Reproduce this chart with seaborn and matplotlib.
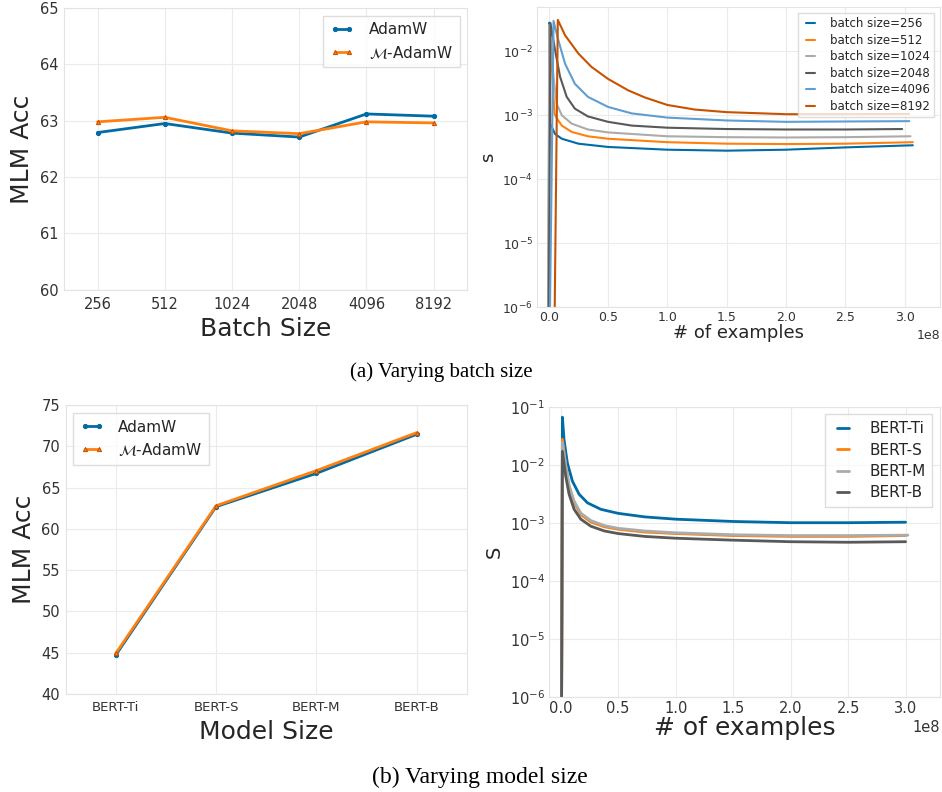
import numpy as np
import pandas as pd
import matplotlib
matplotlib.use('Agg')
import matplotlib.pyplot as plt
import seaborn as sns

# colours (tableau colorblind10)
BLUE = '#006BA4'
ORANGE = '#FF800E'
GRAY = '#ABABAB'
DGRAY = '#595959'
LBLUE = '#5F9ED1'
DORANGE = '#C85200'

# ---- (a) batch size: accuracy ----
batch_sizes = ['256', '512', '1024', '2048', '4096', '8192']
acc_adamw_bs = [62.79, 62.95, 62.78, 62.71, 63.12, 63.08]
acc_madamw_bs = [62.98, 63.06, 62.82, 62.77, 62.98, 62.96]

# ---- (a) batch size: s vs # of examples (x in units of 1e8) ----
bs_labels = ['batch size=256', 'batch size=512', 'batch size=1024',
             'batch size=2048', 'batch size=4096', 'batch size=8192']
bs_x = [
    [-0.003, 0.005, 0.011, 0.053, 0.11, 0.25, 0.5, 1.0, 1.5, 2.0, 2.5, 3.07],
    [-0.003, 0.008, 0.048, 0.067, 0.11, 0.193, 0.33, 0.5, 1.0, 1.5, 2.0, 2.5, 3.07],
    [-0.003, 0.003, 0.04, 0.067, 0.11, 0.193, 0.33, 0.5, 1.0, 1.5, 2.0, 2.5, 3.05],
    [0.0, 0.014, 0.053, 0.095, 0.151, 0.22, 0.33, 0.5, 0.70, 1.0, 1.5, 2.0, 2.5, 2.98],
    [0.01, 0.04, 0.081, 0.137, 0.22, 0.33, 0.5, 0.70, 1.0, 1.5, 2.0, 2.5, 3.04],
    [0.05, 0.076, 0.137, 0.25, 0.36, 0.5, 0.67, 0.81, 1.0, 1.23, 1.5, 2.0, 2.5, 3.04],
]
bs_s = [
    [1e-6, 2.8e-2, 7.4e-4, 5.1e-4, 4.3e-4, 3.6e-4, 3.2e-4, 2.9e-4, 2.8e-4, 2.9e-4, 3.15e-4, 3.4e-4],
    [1e-6, 2.3e-2, 1.05e-3, 9.0e-4, 6.9e-4, 5.5e-4, 4.7e-4, 4.3e-4, 3.8e-4, 3.6e-4, 3.55e-4, 3.6e-4, 3.8e-4],
    [1e-6, 2.6e-2, 4.0e-3, 1.5e-3, 1.0e-3, 7.4e-4, 6.0e-4, 5.4e-4, 4.7e-4, 4.55e-4, 4.5e-4, 4.55e-4, 4.7e-4],
    [1e-6, 2.77e-2, 1.04e-2, 4.0e-3, 1.94e-3, 1.27e-3, 9.6e-4, 7.9e-4, 6.9e-4, 6.4e-4, 6.1e-4, 6.0e-4, 6.0e-4, 6.1e-4],
    [1e-6, 2.98e-2, 1.48e-2, 6.4e-3, 3.1e-3, 1.94e-3, 1.35e-3, 1.07e-3, 9.2e-4, 8.3e-4, 7.9e-4, 8.0e-4, 8.1e-4],
    [1e-6, 3.1e-2, 1.78e-2, 9.2e-3, 5.7e-3, 3.7e-3, 2.45e-3, 1.9e-3, 1.45e-3, 1.23e-3, 1.12e-3, 1.04e-3, 1.04e-3, 1.05e-3],
]
bs_colors = [BLUE, ORANGE, GRAY, DGRAY, LBLUE, DORANGE]

# ---- (b) model size: accuracy ----
models = ['BERT-Ti', 'BERT-S', 'BERT-M', 'BERT-B']
acc_adamw_ms = [44.72, 62.69, 66.72, 71.45]
acc_madamw_ms = [44.92, 62.80, 67.05, 71.65]

# ---- (b) model size: s vs # of examples (x in units of 1e8) ----
ms_x = [
    [0.008, 0.015, 0.029, 0.058, 0.102, 0.16, 0.233, 0.35, 0.5, 0.73, 1.0, 1.5, 2.0, 2.5, 3.0],
    [0.008, 0.015, 0.044, 0.073, 0.117, 0.175, 0.262, 0.38, 0.5, 0.73, 1.0, 1.5, 2.0, 2.5, 3.0],
    [0.008, 0.015, 0.044, 0.073, 0.117, 0.175, 0.262, 0.38, 0.5, 0.73, 1.0, 1.5, 2.0, 2.5, 3.02],
    [0.008, 0.015, 0.044, 0.073, 0.117, 0.175, 0.262, 0.38, 0.5, 0.73, 1.0, 1.5, 2.0, 2.5, 3.0],
]
ms_s = [
    [1e-6, 6.6e-2, 2.7e-2, 1.07e-2, 5.2e-3, 3.1e-3, 2.2e-3, 1.7e-3, 1.45e-3, 1.26e-3, 1.15e-3, 1.05e-3, 1.0e-3, 1.0e-3, 1.02e-3],
    [1e-6, 2.75e-2, 9.4e-3, 4.2e-3, 2.2e-3, 1.38e-3, 1.03e-3, 8.5e-4, 7.7e-4, 6.9e-4, 6.5e-4, 6.0e-4, 5.8e-4, 5.8e-4, 6.0e-4],
    [1e-6, 2.45e-2, 9.8e-3, 4.4e-3, 2.35e-3, 1.46e-3, 1.09e-3, 8.9e-4, 8.0e-4, 7.2e-4, 6.7e-4, 6.2e-4, 6.0e-4, 6.0e-4, 6.1e-4],
    [1e-6, 1.7e-2, 6.3e-3, 3.1e-3, 1.7e-3, 1.15e-3, 8.7e-4, 7.2e-4, 6.5e-4, 5.8e-4, 5.4e-4, 5.0e-4, 4.7e-4, 4.6e-4, 4.7e-4],
]
ms_colors = [BLUE, ORANGE, GRAY, DGRAY]

sns.set_style('whitegrid', rc={
    'axes.edgecolor': '#e3e3e3',
    'grid.color': '#ebebeb',
    'axes.linewidth': 1.0,
    'text.color': '#262626',
    'xtick.color': '#333333',
    'ytick.color': '#333333',
    'axes.labelcolor': '#262626',
})
plt.rcParams['font.family'] = ['DejaVu Sans']

fig = plt.figure(figsize=(9.42, 7.92), dpi=100)

ax1 = fig.add_axes([0.068, 0.634, 0.428, 0.356])
ax2 = fig.add_axes([0.570, 0.612, 0.428, 0.379])
ax3 = fig.add_axes([0.0697, 0.1237, 0.4257, 0.3649])
ax4 = fig.add_axes([0.583, 0.1203, 0.415, 0.3662])


def style_legend(ax, loc, fs, hl, ls, bp=0.45):
    leg = ax.legend(loc=loc, fontsize=fs, numpoints=2, fancybox=False,
                    frameon=True, handlelength=hl, handletextpad=1.0,
                    labelspacing=ls, borderpad=bp)
    leg.get_frame().set_edgecolor('#d5d5d5')


def acc_panel(ax, cats, a, m, ylim, yticks, xlabel, loc, tick_fs):
    sns.lineplot(x=cats, y=a, ax=ax, color=BLUE, linewidth=2, marker='o',
                 markersize=3, markeredgecolor=BLUE, label='AdamW', sort=False)
    sns.lineplot(x=cats, y=m, ax=ax, color=ORANGE, linewidth=2, marker='^',
                 markersize=3, markeredgecolor=DORANGE, label=r'$\mathcal{M}$-AdamW', sort=False)
    ax.set_xlim(-0.5, len(cats) - 0.5)
    ax.set_ylim(*ylim)
    ax.set_yticks(yticks)
    ax.set_xlabel(xlabel, fontsize=18)
    ax.set_ylabel('MLM Acc', fontsize=18)
    ax.tick_params(axis='x', labelsize=tick_fs, length=0, pad=5)
    ax.tick_params(axis='y', labelsize=10.5, length=0, pad=4)
    style_legend(ax, loc, 11, 1.5, 0.4)


def s_panel(ax, xs, ss, labels, colors, lw, tick_fs, ylim):
    for x, s, lab, c in zip(xs, ss, labels, colors):
        sns.lineplot(x=np.array(x) * 1e8, y=s, ax=ax, color=c, linewidth=lw,
                     label=lab, sort=False, estimator=None)
    ax.set_yscale('log')
    ax.set_ylim(*ylim)
    ax.set_xlim(-0.1e8, 3.3e8)
    ax.set_xticks(np.arange(0, 3.01e8, 0.5e8))
    ax.tick_params(labelsize=tick_fs, length=0, pad=3)
    ax.xaxis.get_offset_text().set_fontsize(tick_fs)


acc_panel(ax1, batch_sizes, acc_adamw_bs, acc_madamw_bs, (60, 65),
          [60, 61, 62, 63, 64, 65], 'Batch Size', 'upper right', 10.5)

s_panel(ax2, bs_x, bs_s, bs_labels, bs_colors, 1.5, 9, (1e-6, 10 ** -1.31))
ax2.set_xlabel('# of examples', fontsize=13, labelpad=0)
ax2.set_ylabel('s', fontsize=13)
style_legend(ax2, 'upper right', 8.5, 1.35, 0.3, bp=0.35)

acc_panel(ax3, models, acc_adamw_ms, acc_madamw_ms, (40, 75),
          [40, 45, 50, 55, 60, 65, 70, 75], 'Model Size', 'upper left', 9.5)

s_panel(ax4, ms_x, ms_s, models, ms_colors, 2.0, 10.5, (1e-6, 1e-1))
ax4.set_xlabel('# of examples', fontsize=18, labelpad=0)
ax4.set_ylabel('S', fontsize=14)
style_legend(ax4, 'upper right', 11, 1.45, 0.42)

fig.text(0.468, 0.530, '(a) Varying batch size', ha='center', va='center',
         fontsize=15, family='Liberation Serif', color='black')
fig.text(0.509, 0.018, '(b) Varying model size', ha='center', va='center',
         fontsize=17, family='Liberation Serif', color='black')

fig.savefig('out.png', dpi=100)
